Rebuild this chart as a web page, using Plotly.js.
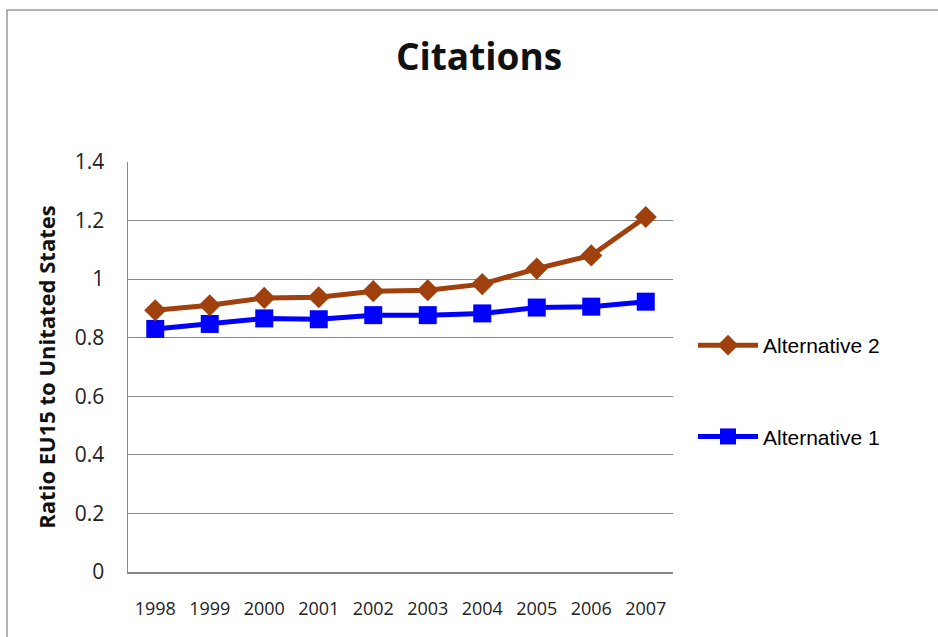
<!DOCTYPE html>
<html>
<head>
<meta charset="utf-8">
<script src="https://cdn.plot.ly/plotly-3.0.1.min.js"></script>
<style>
  html, body { margin: 0; padding: 0; background: #ffffff; }
  #chart { width: 938px; height: 637px; }
</style>
</head>
<body>
<div id="chart"></div>
<script>
// Data
const years = ["1998", "1999", "2000", "2001", "2002", "2003", "2004", "2005", "2006", "2007"];
const alternative1 = [0.830, 0.847, 0.866, 0.863, 0.877, 0.877, 0.883, 0.903, 0.906, 0.923];
const alternative2 = [0.894, 0.911, 0.936, 0.938, 0.959, 0.962, 0.983, 1.036, 1.081, 1.212];
const seriesNames = ["Alternative 1", "Alternative 2"];
const yTicks = [0, 0.2, 0.4, 0.6, 0.8, 1, 1.2, 1.4];

const W = 938, H = 637;
const mL = 128, mR = 265, mT = 162, mB = 65;
const pw = W - mL - mR, ph = H - mT - mB;
const px = x => (x - mL) / pw;
const py = y => (H - mB - y) / ph;

const traces = [
  {
    x: years, y: alternative1, name: seriesNames[0], type: "scatter", mode: "lines+markers",
    legendgroup: "a1", legendrank: 2,
    line: { color: "#0000FF", width: 5 },
    marker: { symbol: "square", size: 18, color: "#0000FF" }
  },
  {
    x: years, y: alternative2, name: seriesNames[1], type: "scatter", mode: "lines+markers",
    legendgroup: "a2", legendrank: 1,
    line: { color: "#A0410D", width: 5 },
    marker: { symbol: "diamond", size: 17, color: "#A0410D" }
  }
];

const layout = {
  width: W, height: H,
  margin: { l: mL, r: mR, t: mT, b: mB },
  paper_bgcolor: "#ffffff",
  plot_bgcolor: "#ffffff",
  title: {
    text: "<b>Citations</b>",
    font: { family: "'Open Sans', sans-serif", size: 37, color: "#111111" },
    x: 479 / W, xanchor: "center", xref: "container",
    y: 1 - 57 / H, yanchor: "middle", yref: "container"
  },
  xaxis: {
    type: "category",
    range: [-0.5, 9.5],
    showgrid: false,
    showline: true, linecolor: "#888888", linewidth: 1.5,
    ticks: "", ticklabelstandoff: 20,
    tickfont: { family: "'Open Sans', sans-serif", size: 18, color: "#222222" },
    fixedrange: true
  },
  yaxis: {
    range: [0, 1.4],
    tickvals: yTicks,
    showgrid: true, gridcolor: "#888888", gridwidth: 1,
    showline: true, linecolor: "#888888", linewidth: 1.5,
    zeroline: false,
    ticks: "", ticklabelstandoff: 18,
    tickfont: { family: "'Open Sans', sans-serif", size: 21, color: "#222222" },
    title: {
      text: "<b>Ratio EU15 to Unitated States</b>",
      font: { family: "'Open Sans', sans-serif", size: 22, color: "#111111" },
      standoff: 13
    },
    fixedrange: true
  },
  showlegend: true,
  legend: {
    x: px(693), xanchor: "left",
    y: py(325), yanchor: "top",
    traceorder: "grouped",
    tracegroupgap: 61,
    itemwidth: 60,
    bgcolor: "rgba(0,0,0,0)",
    font: { family: "'Liberation Sans', Arial, sans-serif", size: 21, color: "#000000" }
  },
  shapes: [
    {
      type: "rect", xref: "paper", yref: "paper",
      x0: px(7), x1: px(945), y0: py(645), y1: py(10),
      line: { color: "#999999", width: 1.5 },
      fillcolor: "rgba(0,0,0,0)",
      layer: "below"
    }
  ]
};

Plotly.newPlot("chart", traces, layout, { displayModeBar: false, staticPlot: true });
</script>
</body>
</html>
